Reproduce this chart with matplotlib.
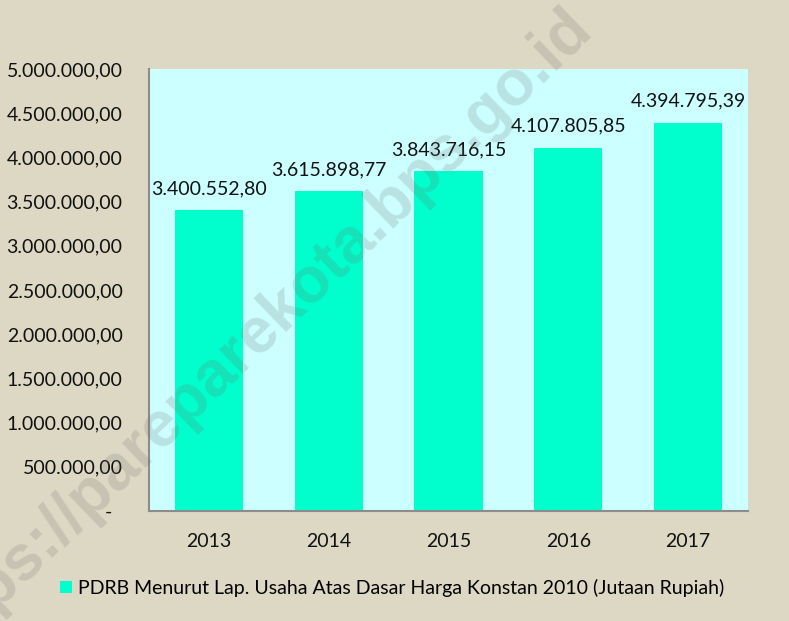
import matplotlib.pyplot as plt
from matplotlib.ticker import FuncFormatter

years = ["2013", "2014", "2015", "2016", "2017"]
pdrb = [3400552.80, 3615898.77, 3843716.15, 4107805.85, 4394795.39]
series_name = "PDRB Menurut Lap. Usaha Atas Dasar Harga Konstan 2010 (Jutaan Rupiah)"
yticks = [0, 500000, 1000000, 1500000, 2000000, 2500000, 3000000, 3500000, 4000000, 4500000, 5000000]

plt.rcParams['font.family'] = ['Lato', 'DejaVu Sans']


def id_fmt(v):
    # indonesian style: dot thousands, comma decimals
    s = f"{v:,.2f}"
    return s.replace(",", "X").replace(".", ",").replace("X", ".")


def tick_fmt(v, pos):
    if v == 0:
        return "-  "
    return id_fmt(v)


fig = plt.figure(figsize=(7.89, 6.21), dpi=100, facecolor="#DDD8C4")
ax = fig.add_axes([149 / 789, 1 - 511 / 621, 599 / 789, 442 / 621])
ax.set_facecolor("#CCFFFF")

x = range(len(years))
bars = ax.bar(x, pdrb, width=0.57, color="#00FFCC", label=series_name, zorder=2)
for xi, v in zip(x, pdrb):
    ax.text(xi, v + 150000, id_fmt(v), ha="center", va="bottom", fontsize=14, color="#111111", zorder=3)

ax.set_xlim(-0.5, len(years) - 0.5)
ax.set_ylim(0, 5000000)
ax.set_yticks(yticks)
ax.yaxis.set_major_formatter(FuncFormatter(tick_fmt))
ax.set_xticks(list(x))
ax.set_xticklabels(years)
ax.tick_params(axis="both", length=0, labelsize=14, colors="#111111")
ax.tick_params(axis="x", pad=16)
ax.tick_params(axis="y", pad=19)
for side in ["top", "right"]:
    ax.spines[side].set_visible(False)
for side in ["left", "bottom"]:
    ax.spines[side].set_color("#8C8C8C")
    ax.spines[side].set_linewidth(1.5)

fig.legend(handles=[bars], labels=[series_name], loc="center", bbox_to_anchor=(392 / 789, 1 - 588 / 621),
           frameon=False, fontsize=14, handlelength=0.6, handleheight=0.6, handletextpad=0.3)

# watermark, anchored at the end of "id" in the top right
fig.text(594 / 789, 1 - 31 / 621, "https://pareparekota.bps.go.id", fontsize=46, fontweight="bold",
         family="Liberation Sans", color="#707070", alpha=0.2, rotation=44, rotation_mode="anchor",
         ha="right", va="baseline", zorder=10)

fig.savefig("out.png", dpi=100, facecolor=fig.get_facecolor())
